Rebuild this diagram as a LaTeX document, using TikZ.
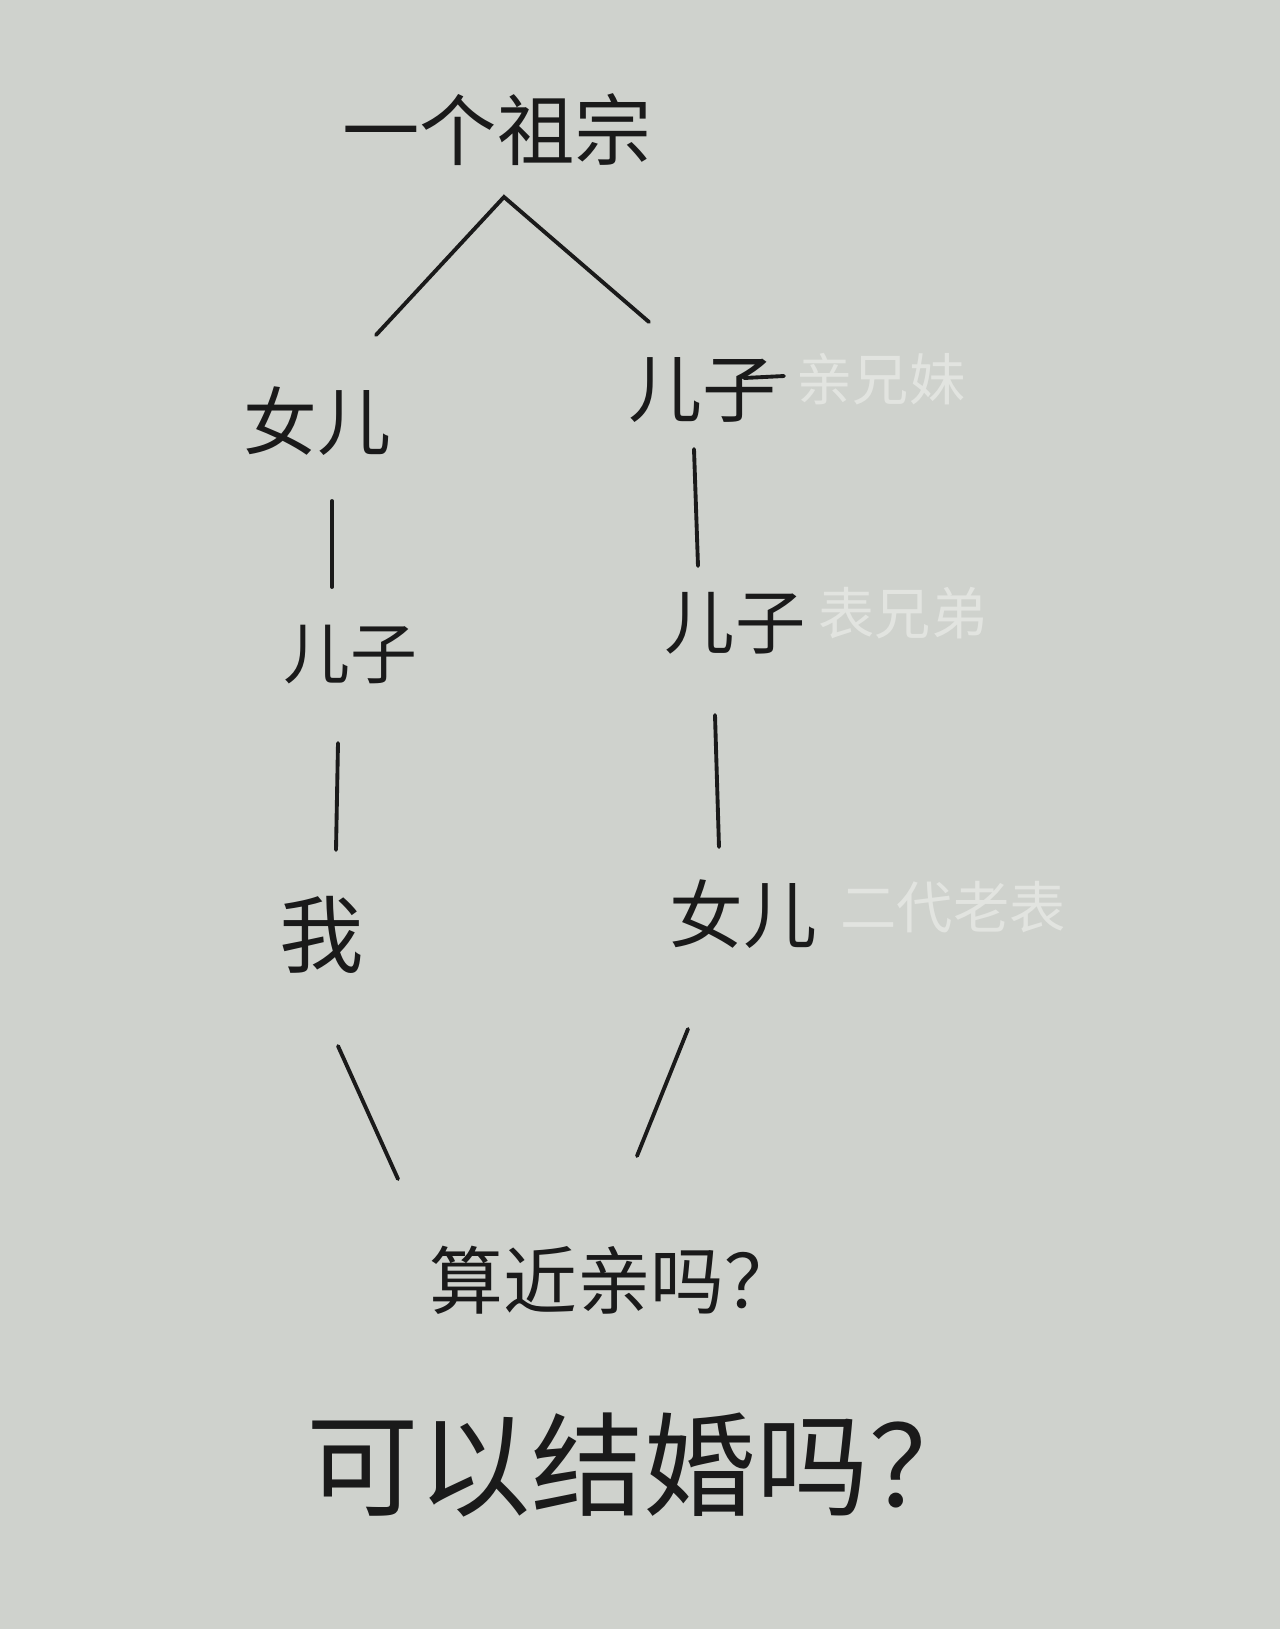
\documentclass[tikz,border=0pt]{standalone}
\usepackage{fontspec}
\newfontfamily\cjk{Noto Sans CJK SC}
\definecolor{paper}{HTML}{CFD2CD}
\definecolor{ink}{HTML}{1A1A1A}
\definecolor{mark}{HTML}{E2E4E0}
\tikzset{
  hand/.style={font=\cjk\fontsize{#1}{#1}\selectfont, text=ink, inner sep=0pt},
  wm/.style={font=\cjk\fontsize{16}{16}\selectfont, text=mark, inner sep=0pt, anchor=west},
  link/.style={draw=ink, line width=1.1pt, line cap=round}
}
\begin{document}
\begin{tikzpicture}[x=0.01cm,y=-0.01cm]
\fill[paper] (0,0) rectangle (1280,1629);
\useasboundingbox (0,0) rectangle (1280,1629);
% nodes
\node[hand=22] (root) at (497,130) {一个祖宗};
\node[hand=21] (d1) at (317,421) {女儿};
\node[hand=21] (s1) at (702,390) {儿子};
\node[hand=19] (s2) at (350,655) {儿子};
\node[hand=20] (s3) at (735,623) {儿子};
\node[hand=24] (me) at (322,935) {我};
\node[hand=21] (d2) at (743,914) {女儿};
\node[hand=21] (q1) at (614,1280) {算近亲吗？};
\node[hand=32] (q2) at (644,1465) {可以结婚吗？};
% watermarks
\node[wm] (w1) at (796,379) {亲兄妹};
\node[wm] (w2) at (818,613) {表兄弟};
\node[wm] (w3) at (840,907) {二代老表};
% connector coordinates
\coordinate (apex) at (504,197);
\coordinate (la) at (376,335);
\coordinate (ra) at (649,322);
\coordinate (l1a) at (332,501); \coordinate (l1b) at (332,587);
\coordinate (r1a) at (694,449); \coordinate (r1b) at (698,566);
\coordinate (l2a) at (338,743); \coordinate (l2b) at (336,850);
\coordinate (r2a) at (715,715); \coordinate (r2b) at (719,847);
\coordinate (l3a) at (338,1046); \coordinate (l3b) at (398,1179);
\coordinate (r3a) at (688,1029); \coordinate (r3b) at (637,1156);
\coordinate (dashA) at (744,378); \coordinate (dashB) at (784,376);
% connectors
\draw[link] (la) -- (apex) -- (ra);
\draw[link] (l1a) -- (l1b);
\draw[link] (r1a) -- (r1b);
\draw[link] (l2a) -- (l2b);
\draw[link] (r2a) -- (r2b);
\draw[link] (l3a) -- (l3b);
\draw[link] (r3a) -- (r3b);
\draw[link] (dashA) -- (dashB);
\end{tikzpicture}
\end{document}
